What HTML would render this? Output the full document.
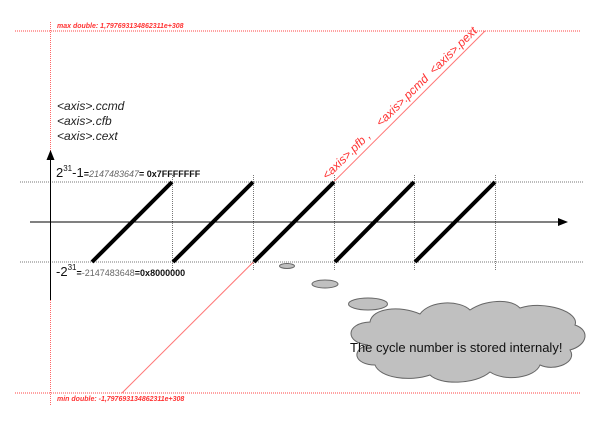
<!DOCTYPE html>
<html><head><meta charset="utf-8"><style>
html,body{margin:0;padding:0;background:#fff;width:600px;height:424px;overflow:hidden}
svg{display:block}
text{font-family:"Liberation Sans",sans-serif}
</style></head><body>
<svg width="600" height="424" viewBox="0 0 600 424" xmlns="http://www.w3.org/2000/svg">
<defs>
<marker id="ar" markerWidth="10" markerHeight="8" refX="9" refY="4" orient="auto" markerUnits="userSpaceOnUse">
<path d="M0,0 L10,4 L0,8 Z" fill="#000"/></marker>
</defs>
<line x1="15" y1="31" x2="580" y2="31" stroke="#f44" stroke-width="1" stroke-dasharray="1,1"/>
<line x1="15" y1="393" x2="580" y2="393" stroke="#f44" stroke-width="1" stroke-dasharray="1,1"/>
<line x1="50.5" y1="22" x2="50.5" y2="180" stroke="#f66" stroke-width="1" stroke-dasharray="1,1"/>
<line x1="50.5" y1="300" x2="50.5" y2="405" stroke="#f66" stroke-width="1" stroke-dasharray="1,1"/>
<text x="57" y="28" font-size="7" font-style="italic" font-weight="bold" fill="#f33" font-family="Liberation Serif">max double: 1,797693134862311e+308</text>
<text x="57" y="401" font-size="7" font-style="italic" font-weight="bold" fill="#f33" font-family="Liberation Serif">min double: -1,797693134862311e+308</text>
<line x1="485" y1="31" x2="122" y2="393" stroke="#f77" stroke-width="1"/>
<text transform="translate(327,180) rotate(-44.5)" font-size="12" font-style="italic" fill="#f33" style="white-space:pre" xml:space="preserve">&lt;axis&gt;.pfb ,    &lt;axis&gt;.pcmd  &lt;axis&gt;.pext</text>
<line x1="20" y1="182" x2="583" y2="182" stroke="#777" stroke-dasharray="1,1"/>
<line x1="20" y1="262" x2="583" y2="262" stroke="#777" stroke-dasharray="1,1"/>
<g stroke="#777" stroke-dasharray="1,1">
<line x1="172.5" y1="175" x2="172.5" y2="270"/>
<line x1="253.5" y1="175" x2="253.5" y2="270"/>
<line x1="334.5" y1="175" x2="334.5" y2="270"/>
<line x1="414.5" y1="175" x2="414.5" y2="270"/>
<line x1="495.5" y1="175" x2="495.5" y2="270"/>
</g>
<line x1="30" y1="222" x2="567" y2="222" stroke="#000" stroke-width="1" marker-end="url(#ar)"/>
<line x1="50.5" y1="300" x2="50.5" y2="151" stroke="#000" stroke-width="1" marker-end="url(#ar)"/>
<g stroke="#000" stroke-width="4">
<line x1="92" y1="262" x2="172" y2="182"/>
<line x1="173" y1="262" x2="253" y2="182"/>
<line x1="254" y1="262" x2="334" y2="182"/>
<line x1="335" y1="262" x2="414" y2="182"/>
<line x1="415" y1="262" x2="495" y2="182"/>
</g>
<g font-size="12" font-style="italic" fill="#222">
<text x="57" y="110">&lt;axis&gt;.ccmd</text>
<text x="57" y="125">&lt;axis&gt;.cfb</text>
<text x="57" y="140">&lt;axis&gt;.cext</text>
</g>
<text x="56" y="177" font-size="13" fill="#111">2<tspan font-size="8" dy="-6">31</tspan><tspan dy="6">-1</tspan><tspan font-size="9" font-weight="bold">=</tspan><tspan font-size="9" font-style="italic" fill="#666">2147483647</tspan><tspan font-size="9" font-weight="bold">= 0x7FFFFFFF</tspan></text>
<text x="56" y="276" font-size="13" fill="#111">-2<tspan font-size="8" dy="-6">31</tspan><tspan font-size="9" dy="6" font-weight="bold">=</tspan><tspan font-size="9" fill="#666">-2147483648</tspan><tspan font-size="9" font-weight="bold">=0x8000000</tspan></text>
<g fill="#c0c0c0" stroke="#666" stroke-width="1">
<ellipse cx="287" cy="266" rx="7.5" ry="2.5"/>
<ellipse cx="325" cy="284" rx="13" ry="4"/>
<ellipse cx="368" cy="304" rx="19.5" ry="6"/>
<path d="M368,345 C345,343 345,323 370,322 C372,308 400,305 420,314 C430,300 460,300 470,310 C485,300 510,298 520,308 C545,300 580,312 575,325 C590,330 588,345 570,350 C578,362 555,372 540,365 C535,378 505,382 490,372 C475,385 440,385 430,375 C410,382 380,378 375,365 C355,365 350,350 368,345 Z"/>
</g>
<text x="350" y="352" font-size="13" fill="#111">The cycle number is stored internaly!</text>
</svg>
</body></html>
